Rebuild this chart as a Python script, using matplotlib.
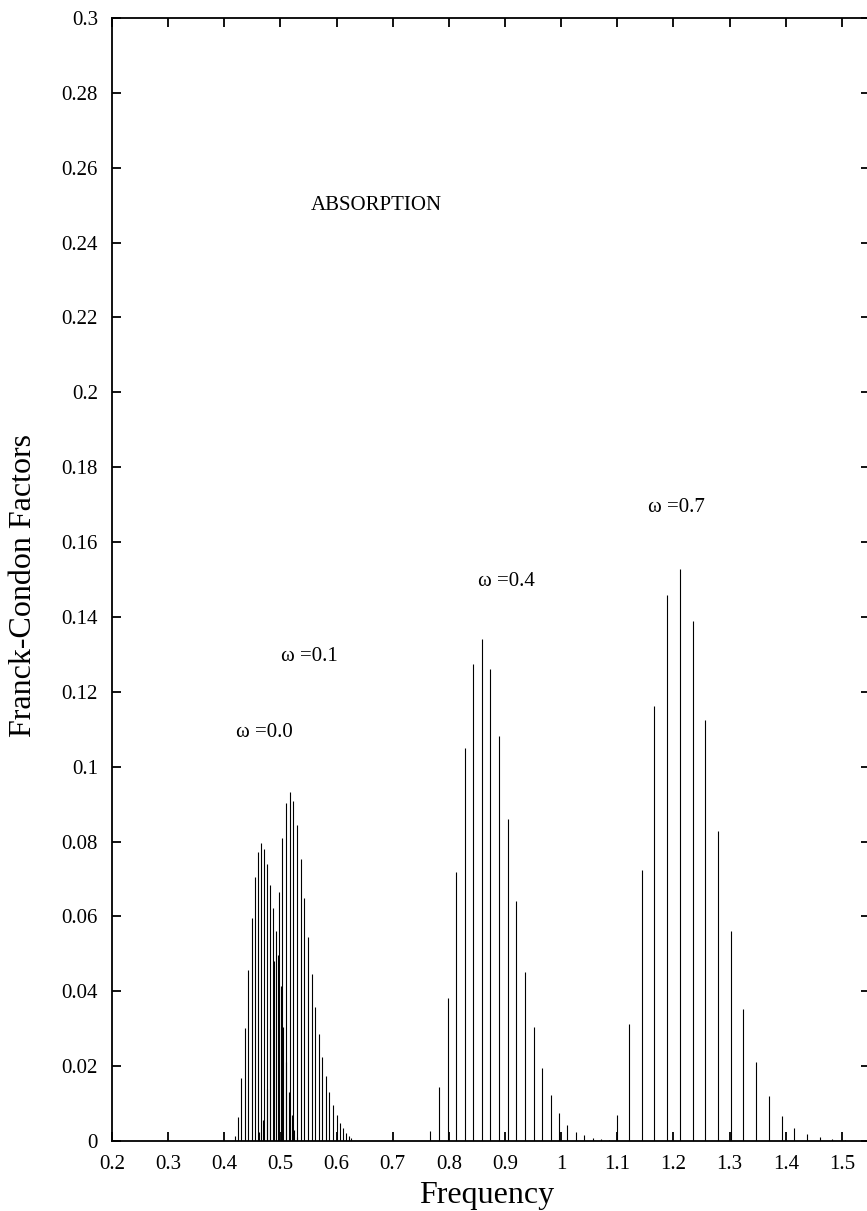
import matplotlib
matplotlib.use("Agg")
import matplotlib.pyplot as plt
from matplotlib.ticker import FuncFormatter

plt.rcParams['font.family'] = ['Liberation Serif', 'DejaVu Serif']

# ---- data ----
freq_w00 = [0.4185, 0.4245, 0.4305, 0.4365, 0.4425, 0.4485, 0.4540, 0.4595,
            0.4648, 0.4702, 0.4755, 0.4809, 0.4862, 0.4915, 0.4960, 0.5004,
            0.5050, 0.5100, 0.5150, 0.5200, 0.5250, 0.5300]
fcf_w00 = [0.0013, 0.0065, 0.0167, 0.0303, 0.0456, 0.0597, 0.0704, 0.0772,
           0.0795, 0.0781, 0.0741, 0.0683, 0.0622, 0.0561, 0.0496, 0.0413,
           0.0305, 0.0210, 0.0130, 0.0070, 0.0030, 0.0010]

freq_w01 = [0.4618, 0.4685, 0.4755, 0.4822, 0.4892, 0.4966, 0.5030, 0.5096,
            0.5165, 0.5229, 0.5298, 0.5362, 0.5425, 0.5490, 0.5556, 0.5615,
            0.5680, 0.5740, 0.5806, 0.5870, 0.5936, 0.6002, 0.6060, 0.6120,
            0.6173, 0.6221, 0.6262]
fcf_w01 = [0.0025, 0.0055, 0.0140, 0.0300, 0.0482, 0.0665, 0.0810, 0.0903,
           0.0932, 0.0908, 0.0844, 0.0753, 0.0648, 0.0545, 0.0446, 0.0358,
           0.0285, 0.0224, 0.0174, 0.0132, 0.0096, 0.0069, 0.0048, 0.0034,
           0.0022, 0.0014, 0.0007]

freq_w04 = [0.7663, 0.7822, 0.7976, 0.8130, 0.8284, 0.8438, 0.8586, 0.8740,
            0.8893, 0.9047, 0.9201, 0.9355, 0.9509, 0.9663, 0.9811, 0.9959,
            1.0112, 1.0266, 1.0414, 1.0562, 1.0710, 1.0860]
fcf_w04 = [0.0027, 0.0143, 0.0382, 0.0718, 0.1049, 0.1274, 0.1342, 0.1262,
           0.1083, 0.0861, 0.0641, 0.0452, 0.0304, 0.0196, 0.0124, 0.0074,
           0.0044, 0.0025, 0.0015, 0.0008, 0.0005, 0.0002]

freq_w07 = [1.0988, 1.1210, 1.1433, 1.1660, 1.1889, 1.2117, 1.2339, 1.2567,
            1.2795, 1.3023, 1.3246, 1.3474, 1.3702, 1.3924, 1.4152, 1.4380,
            1.4602, 1.4830, 1.5050]
fcf_w07 = [0.0069, 0.0313, 0.0724, 0.1161, 0.1458, 0.1528, 0.1390, 0.1125,
           0.0828, 0.0561, 0.0353, 0.0211, 0.0121, 0.0066, 0.0035, 0.0019,
           0.0010, 0.0006, 0.0003]

omega_labels = ['ω =0.0', 'ω =0.1', 'ω =0.4', 'ω =0.7']
x_ticks = [0.2, 0.3, 0.4, 0.5, 0.6, 0.7, 0.8, 0.9, 1.0, 1.1, 1.2, 1.3, 1.4, 1.5]
y_ticks = [0, 0.02, 0.04, 0.06, 0.08, 0.1, 0.12, 0.14, 0.16, 0.18, 0.2,
           0.22, 0.24, 0.26, 0.28, 0.3]

# ---- figure ----
W, H = 867, 1211
fig = plt.figure(figsize=(W / 100, H / 100), dpi=100)
ax = fig.add_axes([112 / W, 70 / H, 758 / W, 1123 / H])

for xs, ys in [(freq_w00, fcf_w00), (freq_w01, fcf_w01),
               (freq_w04, fcf_w04), (freq_w07, fcf_w07)]:
    ax.vlines(xs, 0, ys, colors='black', linewidth=0.8)

ax.set_xlim(0.2, 1.55)
ax.set_ylim(0, 0.3)
ax.set_xticks(x_ticks)
ax.set_yticks(y_ticks)
ax.xaxis.set_major_formatter(FuncFormatter(lambda v, p: f"{v:g}"))
ax.yaxis.set_major_formatter(FuncFormatter(lambda v, p: f"{v:g}"))
ax.tick_params(direction='in', length=6.5, width=1.3, top=True, right=True,
               labelsize=15, colors='black')
ax.tick_params(axis='x', pad=10)
ax.tick_params(axis='y', pad=10)
for s in ax.spines.values():
    s.set_linewidth(1.3)

ax.set_xlabel('Frequency', fontsize=23)
ax.set_ylabel('Franck-Condon Factors', fontsize=23)
ax.xaxis.set_label_coords(0.494, -0.036)
ax.yaxis.set_label_coords(-0.098, 0.495)

label_pos = [(0.4716, 0.1079), (0.5517, 0.1281), (0.903, 0.1483), (1.2044, 0.168)]
for txt, (lx, ly) in zip(omega_labels, label_pos):
    ax.text(lx, ly, txt, fontsize=15, ha='center', va='baseline')
ax.text(0.6702, 0.2486, 'ABSORPTION', fontsize=15, ha='center', va='baseline')

fig.savefig('out.png', dpi=100)
